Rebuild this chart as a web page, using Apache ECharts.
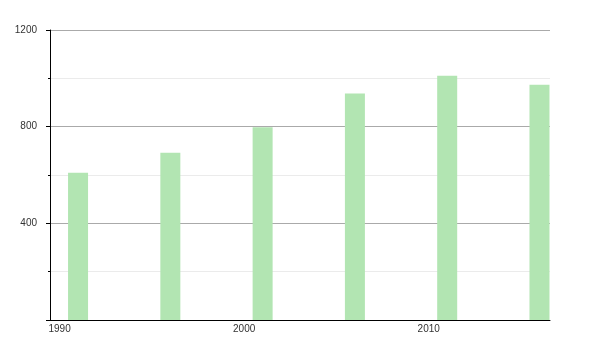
<!DOCTYPE html>
<html>
<head>
<meta charset="utf-8">
<script src="https://cdn.jsdelivr.net/npm/echarts@6/dist/echarts.min.js"></script>
<style>html,body{margin:0;padding:0;background:#fff;}#c{width:600px;height:350px;}</style>
</head>
<body>
<div id="c"></div>
<script>
var years = [1991, 1996, 2001, 2006, 2011, 2016];
var values = [609, 692, 798, 937, 1011, 973];
var xTickLabels = [1990, 2000, 2010];
var yTickLabels = [400, 800, 1200];

var chart = echarts.init(document.getElementById('c'), null, {renderer: 'canvas'});
chart.setOption({
  animation: false,
  backgroundColor: '#fff',
  grid: {left: 50, right: 50, top: 30, bottom: 30, containLabel: false},
  xAxis: {
    type: 'value',
    min: 1989.48,
    max: 2016.57,
    axisLine: {show: true, lineStyle: {color: '#000', width: 1}},
    axisTick: {show: false},
    splitLine: {show: false},
    axisLabel: {
      customValues: xTickLabels,
      color: '#333',
      fontSize: 10,
      fontFamily: 'Liberation Sans, Arial, sans-serif',
      margin: 4,
      showMinLabel: true,
      showMaxLabel: true,
      formatter: function (v) { return String(v); }
    }
  },
  yAxis: {
    type: 'value',
    min: 0,
    max: 1200,
    interval: 400,
    axisLine: {show: true, lineStyle: {color: '#000', width: 1}},
    axisTick: {show: true, length: 4, lineStyle: {color: '#000'}},
    minorTick: {show: true, splitNumber: 2, length: 2, lineStyle: {color: '#000'}},
    splitLine: {show: true, lineStyle: {color: '#aaa', width: 1}},
    minorSplitLine: {show: true, lineStyle: {color: '#ebebeb', width: 1}},
    axisLabel: {
      color: '#333',
      fontSize: 10,
      fontFamily: 'Liberation Sans, Arial, sans-serif',
      margin: 13,
      formatter: function (v) { return yTickLabels.indexOf(v) >= 0 ? String(v) : ''; }
    }
  },
  series: [{
    type: 'bar',
    barWidth: 20,
    data: years.map(function (y, i) { return [y, values[i]]; }),
    itemStyle: {color: '#b2e5b2'}
  }]
});
</script>
</body>
</html>
